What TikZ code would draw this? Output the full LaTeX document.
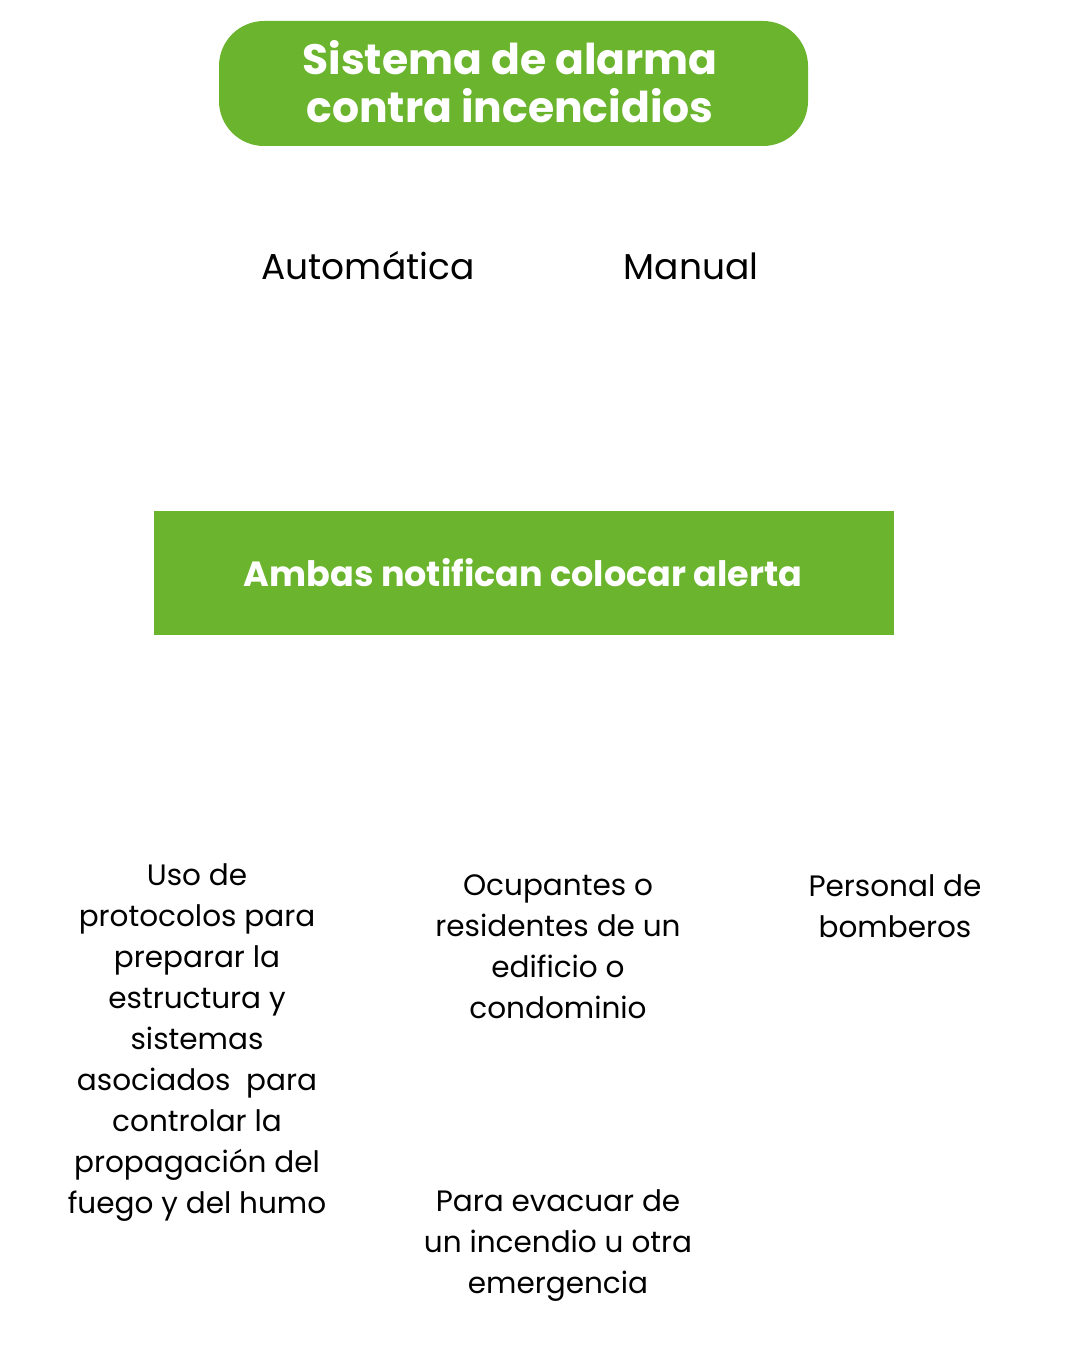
\documentclass[tikz,border=0pt]{standalone}
\usepackage{fontspec}
\setmainfont{Poppins}
\definecolor{leaf}{HTML}{6AB42E}
\begin{document}
\begin{tikzpicture}[x=1pt,y=-1pt,
  titlebox/.style={fill=leaf,rounded corners=45pt,minimum width=589pt,minimum height=125pt,inner sep=0pt},
  barbox/.style={fill=leaf,minimum width=740pt,minimum height=124pt,inner sep=0pt},
  whitebold/.style={text=white,font=\fontsize{42.5}{48}\selectfont\bfseries,align=center},
  branch/.style={font=\fontsize{36}{40}\selectfont,inner sep=0pt},
  body/.style={font=\fontsize{29.5}{41}\selectfont,align=center,inner sep=0pt}]
\useasboundingbox (0,0) rectangle (1070,1351);
\node[titlebox] (title) at (513.5,83.5) {};
\node[whitebold] (titletext) at (510,82) {Sistema de alarma\\contra incencidios};
\node[branch] (auto) at (368,266) {Automática};
\node[branch] (manual) at (691,266) {Manual};
\node[barbox] (bar) at (524,573) {};
\node[text=white,font=\fontsize{35}{40}\selectfont\bfseries] (bartext) at (523,573) {Ambas notifican colocar alerta};
\node[body,anchor=north] (uso) at (197,863) {Uso de\\protocolos para\\preparar la\\estructura y\\sistemas\\asociados\ \ para\\controlar la\\propagación del\\fuego y del humo};
\node[body,anchor=north] (ocup) at (558,874) {Ocupantes o\\residentes de un\\edificio o\\condominio};
\node[body,anchor=north] (pers) at (895,874) {Personal de\\bomberos};
\node[body,anchor=north] (evac) at (558,1189) {Para evacuar de\\un incendio u otra\\emergencia};
\end{tikzpicture}
\end{document}
